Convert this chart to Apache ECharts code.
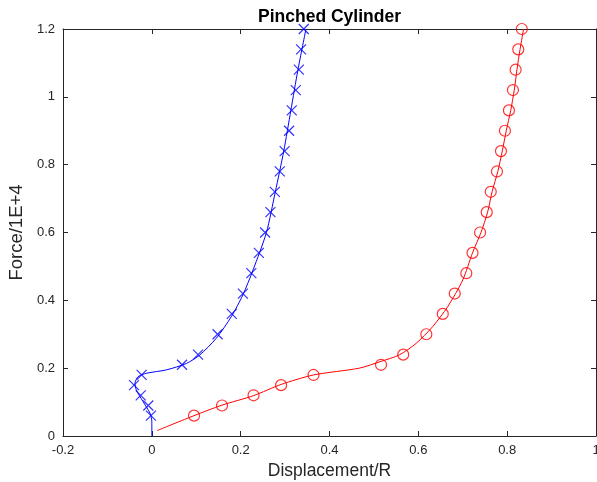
<!DOCTYPE html>
<html>
<head>
<meta charset="utf-8">
<script src="https://cdn.jsdelivr.net/npm/echarts@6/dist/echarts.min.js"></script>
<style>html,body{margin:0;padding:0;background:#fff}#c{width:597px;height:482px}</style>
</head>
<body>
<div id="c"></div>
<script>
// Load levels (Force/1E+4) at which markers are drawn
var forceLevels = [0.06, 0.09, 0.12, 0.15, 0.18, 0.21, 0.24, 0.30, 0.36, 0.42, 0.48, 0.54, 0.60, 0.66, 0.72, 0.78, 0.84, 0.90, 0.96, 1.02, 1.08, 1.14, 1.20];
// Marker displacements
var blueMarkerX = [-0.002, -0.008, -0.025, -0.040, -0.023, 0.068, 0.104, 0.148, 0.180, 0.205, 0.224, 0.241, 0.255, 0.267, 0.277, 0.288, 0.299, 0.309, 0.315, 0.324, 0.331, 0.336, 0.342];
var redMarkerX = [0.095, 0.158, 0.229, 0.291, 0.364, 0.516, 0.566, 0.618, 0.655, 0.682, 0.708, 0.722, 0.739, 0.754, 0.763, 0.777, 0.786, 0.795, 0.804, 0.813, 0.819, 0.825, 0.833];
// Reference curves
var blueLineX = [0.000, 0.000, -0.004, -0.020, -0.035, -0.038, -0.031, -0.012, 0.033, 0.078, 0.108, 0.145, 0.179, 0.205, 0.228, 0.258, 0.278, 0.297, 0.313, 0.329, 0.347];
var blueLineY = [0.000, 0.042, 0.067, 0.102, 0.136, 0.155, 0.175, 0.185, 0.195, 0.214, 0.239, 0.288, 0.352, 0.416, 0.490, 0.600, 0.720, 0.840, 0.960, 1.080, 1.200];
var redLineX = [0.012, 0.095, 0.158, 0.229, 0.291, 0.364, 0.467, 0.516, 0.557, 0.595, 0.632, 0.666, 0.700, 0.722, 0.741, 0.756, 0.766, 0.779, 0.789, 0.798, 0.808, 0.816, 0.822, 0.829, 0.837];
var redLineY = [0.016, 0.060, 0.091, 0.119, 0.152, 0.180, 0.200, 0.220, 0.239, 0.273, 0.322, 0.381, 0.460, 0.540, 0.600, 0.660, 0.720, 0.780, 0.840, 0.900, 0.960, 1.020, 1.080, 1.140, 1.200];
var xTicks = [-0.2, 0, 0.2, 0.4, 0.6, 0.8, 1];
var yTicks = [0, 0.2, 0.4, 0.6, 0.8, 1, 1.2];

function pairs(xs, ys) { return xs.map(function (x, i) { return [x, ys[i]]; }); }

var FONT = 'Liberation Sans';
var axisCol = '#262626';
function fmt(v) { return String(Number(v.toFixed(2))); }

function xAx(pos, showLabel) {
  return {
    type: 'value', position: pos, min: xTicks[0], max: xTicks[xTicks.length - 1], interval: 0.2,
    axisLine: { show: true, onZero: false, lineStyle: { color: axisCol, width: 1 } },
    axisTick: { show: true, inside: true, length: 5, lineStyle: { color: axisCol } },
    axisLabel: { show: showLabel, formatter: fmt, color: axisCol, fontFamily: FONT, fontSize: 13, margin: 8 },
    splitLine: { show: false },
    name: showLabel ? 'Displacement/R' : '', nameLocation: 'middle', nameGap: 26,
    nameTextStyle: { fontFamily: FONT, fontSize: 17.5, color: axisCol }
  };
}
function yAx(pos, showLabel) {
  return {
    type: 'value', position: pos, min: yTicks[0], max: yTicks[yTicks.length - 1], interval: 0.2,
    axisLine: { show: true, onZero: false, lineStyle: { color: axisCol, width: 1 } },
    axisTick: { show: true, inside: true, length: 5, lineStyle: { color: axisCol } },
    axisLabel: { show: showLabel, formatter: fmt, color: axisCol, fontFamily: FONT, fontSize: 13, margin: 8 },
    splitLine: { show: false },
    name: showLabel ? 'Force/1E+4' : '', nameLocation: 'middle', nameGap: 37,
    nameTextStyle: { fontFamily: FONT, fontSize: 18.5, color: axisCol }
  };
}

var chart = echarts.init(document.getElementById('c'), null, { renderer: 'canvas' });
chart.setOption({
  animation: false,
  backgroundColor: '#fff',
  title: {
    text: 'Pinched Cylinder', left: 253, top: 3,
    textStyle: { fontFamily: FONT, fontSize: 17.5, fontWeight: 'bold', color: '#000' }
  },
  grid: { left: 63, right: 1, top: 29, bottom: 46, containLabel: false, outerBoundsMode: 'none' },
  xAxis: [xAx('bottom', true), xAx('top', false)],
  yAxis: [yAx('left', true), yAx('right', false)],
  series: [
    {
      type: 'line', data: pairs(blueLineX, blueLineY), smooth: 0.25, showSymbol: false,
      lineStyle: { color: '#0000ff', width: 1 }, xAxisIndex: 0, yAxisIndex: 0
    },
    {
      type: 'line', data: pairs(redLineX, redLineY), smooth: 0.25, showSymbol: false,
      lineStyle: { color: '#ff0000', width: 1 }, xAxisIndex: 0, yAxisIndex: 0
    },
    {
      type: 'scatter', data: pairs(blueMarkerX, forceLevels),
      symbol: 'path://M0,0L10,10M10,0L0,10', symbolSize: 10,
      itemStyle: { color: 'none', borderColor: '#0000ff', borderWidth: 1.2 }
    },
    {
      type: 'scatter', data: pairs(redMarkerX, forceLevels),
      symbol: 'circle', symbolSize: 11,
      itemStyle: { color: 'none', borderColor: '#ff0000', borderWidth: 1.2 }
    }
  ]
});
</script>
</body>
</html>
